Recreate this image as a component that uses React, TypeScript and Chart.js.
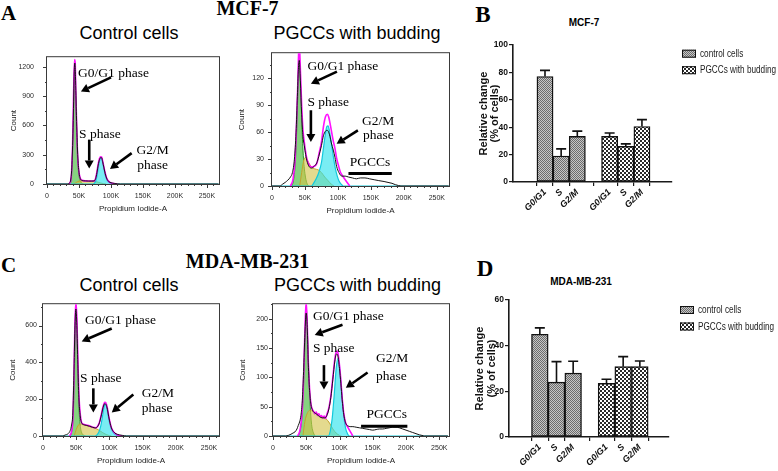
import React, { useEffect, useRef } from "react";
import { Chart, registerables } from "chart.js";

Chart.register(...registerables);

const SERIF = '"Liberation Serif", "Times New Roman", serif';
const SANS = '"Liberation Sans", Arial, sans-serif';

// ---------------- Flow cytometry histograms (x: Propidium Iodide-A in K, y: Count) ----------------
// A: MCF-7 control cells
const A_CTRL_BLACK_X = [0, 33, 35, 37, 39, 41, 42.5, 43.5, 44.5, 46, 48, 50, 52, 55, 60, 65, 70, 74, 76, 78, 80, 82, 84, 85.5, 87, 89, 91, 93, 95, 98, 102, 106, 110, 115, 268];
const A_CTRL_BLACK_Y = [0, 0, 10, 40, 200, 650, 1150, 1240, 1100, 700, 300, 120, 55, 36, 32, 30, 30, 33, 55, 115, 195, 250, 272, 268, 228, 165, 105, 62, 36, 18, 10, 5, 2, 0, 0];
const A_CTRL_FIT_X = [34, 36, 38, 40, 41.5, 43, 44, 45, 46.5, 48, 50, 52, 55, 60, 65, 70, 74, 76, 78, 80, 82, 84, 85.5, 87, 89, 91, 93, 95, 98, 102, 106, 110];
const A_CTRL_FIT_Y = [0, 15, 80, 400, 900, 1275, 1250, 950, 560, 270, 120, 60, 38, 32, 31, 30, 32, 60, 125, 205, 262, 280, 275, 235, 170, 110, 65, 38, 18, 8, 3, 0];
const A_CTRL_G1_X = [34, 36, 38, 40, 41.5, 43.4, 45, 46.5, 48, 50, 52, 54, 57];
const A_CTRL_G1_Y = [0, 5, 60, 350, 800, 1200, 900, 520, 240, 90, 35, 10, 0];
const A_CTRL_S_X = [42, 45, 48, 52, 60, 70, 76, 80, 84, 88, 92];
const A_CTRL_S_Y = [0, 12, 25, 31, 30, 28, 25, 18, 10, 4, 0];
const A_CTRL_G2_X = [0, 72, 75, 77, 79, 81, 83, 84.4, 86, 88, 90, 92, 94, 97, 100, 104, 108, 268];
const A_CTRL_G2_Y = [0, 0, 15, 50, 120, 200, 255, 268, 245, 190, 120, 70, 40, 18, 8, 2, 0, 0];

// A: MCF-7 PGCCs with budding
const A_PGCC_BLACK_X = [0, 12, 16, 20, 24, 28, 31, 34, 36.5, 38.5, 40, 41.4, 43, 45, 47, 49, 51, 53, 56, 60, 64, 68, 71, 75, 78, 81, 84, 86, 88, 90, 93, 95.5, 98, 101.5, 106, 111, 116, 122, 128, 134, 141, 148, 155, 162, 170, 176, 182, 187, 192, 197, 268];
const A_PGCC_BLACK_Y = [0, 0, 2, 4, 6.5, 10, 15, 30, 60, 100, 130, 140, 118, 80, 55, 45, 35, 28, 22, 20, 22, 26, 33, 45, 56, 61, 62, 60, 55, 48, 40, 32, 22, 15, 11, 11, 10, 9, 8, 9, 9, 8, 7, 6, 5, 4, 3, 1.5, 0.5, 0, 0];
const A_PGCC_FIT_X = [28, 32, 35, 37, 39, 40.5, 41.5, 43, 45, 47, 49, 51, 53, 56, 60, 64, 68, 71, 75, 78, 81, 84, 86, 88, 90, 93, 95.5, 98, 101.5, 104, 106.5, 110, 114, 118];
const A_PGCC_FIT_Y = [0, 8, 30, 65, 110, 150, 158, 130, 90, 62, 49, 38, 30, 24, 21, 22, 25, 35, 49, 66, 77, 80, 77, 70, 62, 50, 42, 31, 21, 15, 12, 8, 4, 0];
const A_PGCC_G1_X = [30, 33, 36, 38.5, 40, 41.4, 43, 45, 47, 49, 51, 53, 56];
const A_PGCC_G1_Y = [0, 8, 35, 85, 125, 145, 120, 75, 40, 20, 9, 3, 0];
const A_PGCC_S_X = [42, 45, 48, 51, 55, 60, 65, 70, 75, 80, 85, 90, 94];
const A_PGCC_S_Y = [0, 15, 28, 32, 27, 21, 19, 18, 15, 10, 6, 2, 0];
const A_PGCC_G2_X = [0, 60, 63, 67, 71, 75, 78, 81, 83, 85, 87, 90, 93, 96, 99, 102, 105, 108, 268];
const A_PGCC_G2_Y = [0, 0, 3, 8, 15, 26, 42, 58, 66, 67, 62, 48, 33, 20, 11, 5, 2, 0, 0];

// C: MDA-MB-231 control cells
const C_CTRL_BLACK_X = [0, 30, 33, 38, 41, 43, 45, 46.5, 48, 49.5, 51, 52.5, 54, 56, 58, 61, 65, 70, 75, 79, 82, 85, 88, 90.5, 93, 95, 97, 99, 101, 103, 106, 110, 115, 120, 126, 265];
const C_CTRL_BLACK_Y = [0, 0, 5, 13, 30, 60, 130, 330, 580, 690, 600, 390, 210, 110, 72, 62, 58, 53, 47, 44, 50, 72, 115, 155, 176, 170, 145, 104, 70, 44, 24, 12, 6, 3, 0, 0];
const C_CTRL_FIT_X = [40, 43, 45, 46.5, 48, 49.5, 51, 52.5, 54, 56, 58, 61, 65, 70, 75, 79, 82, 85, 88, 90.5, 93, 95, 97, 99, 101, 103, 106, 110, 115, 120];
const C_CTRL_FIT_Y = [0, 25, 95, 300, 600, 730, 640, 420, 230, 120, 75, 64, 60, 55, 48, 45, 52, 75, 120, 160, 183, 178, 150, 108, 72, 45, 24, 10, 3, 0];
const C_CTRL_G1_X = [40, 43, 45, 47, 48.5, 49.7, 51, 52.5, 54, 56, 58, 61, 64];
const C_CTRL_G1_Y = [0, 20, 80, 300, 560, 690, 580, 350, 170, 60, 20, 5, 0];
const C_CTRL_S_X = [47, 50, 53, 56, 60, 65, 70, 75, 80, 85, 90, 95, 100, 103];
const C_CTRL_S_Y = [0, 35, 58, 65, 62, 57, 52, 46, 40, 30, 18, 8, 2, 0];
const C_CTRL_G2_X = [0, 78, 81, 84, 87, 89.5, 91.5, 93.4, 95, 97, 99, 101, 103, 106, 109, 113, 118, 265];
const C_CTRL_G2_Y = [0, 0, 5, 20, 55, 105, 150, 172, 165, 135, 95, 62, 38, 18, 8, 3, 0, 0];

// C: MDA-MB-231 PGCCs with budding
const C_PGCC_BLACK_X = [0, 19, 23, 27, 30, 33, 36, 38, 40, 42, 44, 46, 48, 49.8, 51.5, 53, 55, 57, 59, 62, 66, 70, 74, 78, 81, 84, 87, 90, 93, 95.5, 97.5, 100, 102, 104, 106, 108, 110, 113, 116, 120, 125, 130, 135, 140, 145, 150, 155, 160, 165, 170, 175, 180, 185, 190, 195, 200, 205, 210, 215, 220, 224, 228, 263];
const C_PGCC_BLACK_Y = [0, 0, 1, 3, 5, 7, 12, 18, 24, 35, 60, 110, 175, 210, 185, 125, 78, 54, 45, 40, 37, 33, 31, 31, 35, 46, 66, 97, 128, 140, 137, 115, 90, 62, 40, 27, 20, 17, 16, 16, 15, 14, 13, 12, 11, 10, 11, 12, 12, 13, 14, 15, 15, 14, 12, 10, 8, 6, 4, 2, 1, 0, 0];
const C_PGCC_FIT_X = [37, 41, 44, 46, 48, 49.8, 51.5, 53, 55, 57, 59, 61, 63, 65, 67, 69, 71, 73, 75, 77, 79, 81, 84, 87, 90, 93, 95.5, 97.5, 100, 102, 104, 106, 108, 110, 113, 116, 120];
const C_PGCC_FIT_Y = [0, 12, 45, 100, 180, 230, 190, 130, 80, 55, 46, 42, 38, 41, 35, 38, 33, 35, 31, 34, 30, 37, 48, 68, 100, 132, 145, 142, 120, 95, 65, 42, 28, 20, 14, 8, 0];
const C_PGCC_G1_X = [38, 41, 44, 46, 48, 50.3, 52, 54, 56, 58, 60, 63];
const C_PGCC_G1_Y = [0, 10, 40, 90, 160, 215, 170, 100, 50, 20, 8, 0];
const C_PGCC_S_X = [45, 48, 52, 56, 60, 65, 70, 75, 80, 85, 90, 95, 100, 103];
const C_PGCC_S_Y = [0, 25, 40, 44, 42, 39, 35, 32, 29, 22, 12, 5, 1, 0];
const C_PGCC_G2_X = [0, 83, 86, 89, 92, 95, 97.5, 100, 103, 106, 109, 112, 115, 263];
const C_PGCC_G2_Y = [0, 0, 8, 30, 70, 115, 132, 118, 78, 38, 14, 4, 0, 0];

// Histogram annotations (in data coordinates: K, count)
type Note = { x: number; y: number; text: string; align?: CanvasTextAlign };
type Arrow = { x1: number; y1: number; x2: number; y2: number };
type HBar = { x1: number; x2: number; y: number };

const A_CTRL_NOTES: Note[] = [
  { x: 48.5, y: 1137, text: "G0/G1 phase" },
  { x: 50, y: 505, text: "S phase" },
  { x: 140, y: 344, text: "G2/M" },
  { x: 141, y: 190, text: "phase" },
];
const A_CTRL_ARROWS: Arrow[] = [
  { x1: 100, y1: 1093, x2: 53, y2: 948 },
  { x1: 66, y1: 455, x2: 66, y2: 158 },
  { x1: 132.3, y1: 316, x2: 98.4, y2: 155 },
];
const A_PGCC_NOTES: Note[] = [
  { x: 53.8, y: 133, text: "G0/G1 phase" },
  { x: 53.8, y: 93.3, text: "S phase" },
  { x: 136.4, y: 71.4, text: "G2/M" },
  { x: 137.9, y: 56, text: "phase" },
  { x: 148.8, y: 26, text: "PGCCs", align: "center" },
];
const A_PGCC_ARROWS: Arrow[] = [
  { x1: 98.5, y1: 127.5, x2: 59, y2: 114 },
  { x1: 59, y1: 84.4, x2: 59, y2: 49 },
  { x1: 130.3, y1: 62, x2: 98, y2: 47 },
];
const A_PGCC_BARS: HBar[] = [{ x1: 116, x2: 181.7, y: 13.8 }];

const C_CTRL_NOTES: Note[] = [
  { x: 63.3, y: 628, text: "G0/G1 phase" },
  { x: 55.7, y: 312, text: "S phase" },
  { x: 148.6, y: 231.6, text: "G2/M" },
  { x: 148.6, y: 147.4, text: "phase" },
];
const C_CTRL_ARROWS: Arrow[] = [
  { x1: 103.5, y1: 584, x2: 58.3, y2: 514 },
  { x1: 75.8, y1: 259, x2: 75.8, y2: 128 },
  { x1: 136, y1: 225, x2: 103.5, y2: 128 },
];
const C_PGCC_NOTES: Note[] = [
  { x: 60.1, y: 204.5, text: "G0/G1 phase" },
  { x: 60.1, y: 148.8, text: "S phase" },
  { x: 154.8, y: 131.7, text: "G2/M" },
  { x: 154.8, y: 102.5, text: "phase" },
  { x: 171, y: 37, text: "PGCCs", align: "center" },
];
const C_PGCC_ARROWS: Arrow[] = [
  { x1: 104.5, y1: 190, x2: 62.7, y2: 172.5 },
  { x1: 76.6, y1: 121, x2: 76.6, y2: 79.5 },
  { x1: 142.2, y1: 108.3, x2: 109.5, y2: 82.2 },
];
const C_PGCC_BARS: HBar[] = [{ x1: 132.4, x2: 202, y: 16.7 }];

// ---------------- Bar charts ----------------
const PHASES = ["G0/G1", "S", "G2/M"];
const CTRL_POS = [1, 2, 3];
const PGCC_POS = [5, 6, 7];
const LEGEND = ["control cells", "PGCCs with budding"];

const B_CTRL = [77, 19, 33.3];
const B_CTRL_ERR = [4.5, 5.2, 3.8];
const B_PGCC = [33.3, 26, 40.5];
const B_PGCC_ERR = [2.5, 1.8, 5];

const D_CTRL = [45, 24, 28];
const D_CTRL_ERR = [2.8, 9, 5.2];
const D_PGCC = [23.5, 30.8, 30.8];
const D_PGCC_ERR = [1.8, 4.4, 2.5];

// ---------------- Panel layouts ----------------
interface HistPanel {
  left: number; top: number; right: number; bottom: number;
  xMax: number; yMax: number; yStep: number; yLabelPad: number; countOffset: number;
  black: [number[], number[]]; fit: [number[], number[]];
  g1: [number[], number[]]; s: [number[], number[]]; g2: [number[], number[]];
  notes: Note[]; arrows: Arrow[]; bars: HBar[];
}

const HISTS: HistPanel[] = [
  {
    left: 47, top: 46, right: 219, bottom: 184, xMax: 268.75, yMax: 1300, yStep: 300, yLabelPad: 13, countOffset: 33,
    black: [A_CTRL_BLACK_X, A_CTRL_BLACK_Y], fit: [A_CTRL_FIT_X, A_CTRL_FIT_Y],
    g1: [A_CTRL_G1_X, A_CTRL_G1_Y], s: [A_CTRL_S_X, A_CTRL_S_Y], g2: [A_CTRL_G2_X, A_CTRL_G2_Y],
    notes: A_CTRL_NOTES, arrows: A_CTRL_ARROWS, bars: [],
  },
  {
    left: 272, top: 47, right: 449, bottom: 186, xMax: 268.5, yMax: 148, yStep: 30, yLabelPad: 8, countOffset: 30,
    black: [A_PGCC_BLACK_X, A_PGCC_BLACK_Y], fit: [A_PGCC_FIT_X, A_PGCC_FIT_Y],
    g1: [A_PGCC_G1_X, A_PGCC_G1_Y], s: [A_PGCC_S_X, A_PGCC_S_Y], g2: [A_PGCC_G2_X, A_PGCC_G2_Y],
    notes: A_PGCC_NOTES, arrows: A_PGCC_ARROWS, bars: A_PGCC_BARS,
  },
  {
    left: 43, top: 300, right: 219, bottom: 436, xMax: 265, yMax: 716, yStep: 200, yLabelPad: 6, countOffset: 30,
    black: [C_CTRL_BLACK_X, C_CTRL_BLACK_Y], fit: [C_CTRL_FIT_X, C_CTRL_FIT_Y],
    g1: [C_CTRL_G1_X, C_CTRL_G1_Y], s: [C_CTRL_S_X, C_CTRL_S_Y], g2: [C_CTRL_G2_X, C_CTRL_G2_Y],
    notes: C_CTRL_NOTES, arrows: C_CTRL_ARROWS, bars: [],
  },
  {
    left: 273, top: 301, right: 449, bottom: 436, xMax: 264.6, yMax: 225, yStep: 50, yLabelPad: 5, countOffset: 30,
    black: [C_PGCC_BLACK_X, C_PGCC_BLACK_Y], fit: [C_PGCC_FIT_X, C_PGCC_FIT_Y],
    g1: [C_PGCC_G1_X, C_PGCC_G1_Y], s: [C_PGCC_S_X, C_PGCC_S_Y], g2: [C_PGCC_G2_X, C_PGCC_G2_Y],
    notes: C_PGCC_NOTES, arrows: C_PGCC_ARROWS, bars: C_PGCC_BARS,
  },
];

interface BarPanelCfg {
  cx: number; cy: number; w: number; h: number;
  pad: { left: number; top: number; right: number; bottom: number };
  xMin: number; xMax: number; yMax: number; yStep: number;
  ctrl: number[]; ctrlErr: number[]; pgcc: number[]; pgccErr: number[];
  legendDx: number; legendDy: number; title1Dx: number; title2Dx: number;
}

const BARS: BarPanelCfg[] = [
  {
    cx: 460, cy: 0, w: 318, h: 225, pad: { left: 53, top: 45, right: 106, bottom: 43 },
    xMin: -0.16, xMax: 8.04, yMax: 100, yStep: 20,
    ctrl: B_CTRL, ctrlErr: B_CTRL_ERR, pgcc: B_PGCC, pgccErr: B_PGCC_ERR,
    legendDx: 10, legendDy: 8.7, title1Dx: 29.5, title2Dx: 18,
  },
  {
    cx: 460, cy: 230, w: 318, h: 241, pad: { left: 49, top: 70, right: 109, bottom: 34 },
    xMin: -0.05, xMax: 7.95, yMax: 60, yStep: 20,
    ctrl: D_CTRL, ctrlErr: D_CTRL_ERR, pgcc: D_PGCC, pgccErr: D_PGCC_ERR,
    legendDx: 11, legendDy: 10, title1Dx: 29, title2Dx: 17.5,
  },
];

const TEXTS = [
  { t: "A", x: 8.5, y: 13.3, font: `bold 21px ${SERIF}` },
  { t: "MCF-7", x: 247.5, y: 8, font: `bold 20px ${SERIF}` },
  { t: "Control cells", x: 129, y: 32.5, font: `18px ${SANS}` },
  { t: "PGCCs with budding", x: 357, y: 32.5, font: `18px ${SANS}` },
  { t: "B", x: 483, y: 14.2, font: `bold 23px ${SERIF}` },
  { t: "MCF-7", x: 584, y: 23, font: `bold 10px ${SANS}` },
  { t: "C", x: 8.5, y: 265, font: `bold 21px ${SERIF}` },
  { t: "MDA-MB-231", x: 247.5, y: 261, font: `bold 20px ${SERIF}` },
  { t: "Control cells", x: 129, y: 285, font: `18px ${SANS}` },
  { t: "PGCCs with budding", x: 357.5, y: 285, font: `18px ${SANS}` },
  { t: "D", x: 485, y: 267.5, font: `bold 23px ${SERIF}` },
  { t: "MDA-MB-231", x: 581, y: 281.7, font: `bold 10px ${SANS}` },
];

// ---------------- Drawing helpers ----------------
function drawArrow(ctx: CanvasRenderingContext2D, x1: number, y1: number, x2: number, y2: number) {
  const ang = Math.atan2(y2 - y1, x2 - x1);
  const hl = 8, hw = 4.5;
  const bx = x2 - hl * Math.cos(ang), by = y2 - hl * Math.sin(ang);
  ctx.beginPath();
  ctx.moveTo(x1, y1);
  ctx.lineTo(bx, by);
  ctx.stroke();
  ctx.beginPath();
  ctx.moveTo(x2, y2);
  ctx.lineTo(bx + hw * Math.sin(ang), by - hw * Math.cos(ang));
  ctx.lineTo(bx - hw * Math.sin(ang), by + hw * Math.cos(ang));
  ctx.closePath();
  ctx.fill();
}

function framePlugin(p: HistPanel) {
  return {
    id: "flowFrame",
    beforeDatasetsDraw(chart: any) {
      const { ctx, chartArea: a } = chart;
      ctx.save();
      ctx.strokeStyle = "#3a3a3a";
      ctx.lineWidth = 1;
      ctx.strokeRect(a.left - 0.5, a.top - 0.5, a.right - a.left + 1, a.bottom - a.top + 1);
      ctx.restore();
    },
    afterDraw(chart: any) {
      const { ctx, chartArea: a, scales } = chart;
      const xs = scales.x, ys = scales.y;
      ctx.save();
      ctx.strokeStyle = "#3a3a3a";
      ctx.lineWidth = 1;
      ctx.beginPath();
      for (let v = 0; v <= p.xMax; v += 10) {
        const px = Math.round(xs.getPixelForValue(v)) + 0.5;
        const len = v % 50 === 0 ? 4 : 2;
        ctx.moveTo(px, a.bottom);
        ctx.lineTo(px, a.bottom + len);
      }
      const minor = p.yStep / 2;
      for (let v = 0; v <= p.yMax; v += minor) {
        const py = Math.round(ys.getPixelForValue(v)) + 0.5;
        const len = Math.abs(v % p.yStep) < 1e-6 ? 4 : 2;
        ctx.moveTo(a.left, py);
        ctx.lineTo(a.left - len, py);
      }
      ctx.stroke();

      // annotations
      ctx.fillStyle = "#000";
      ctx.strokeStyle = "#000";
      ctx.lineWidth = 2.6;
      ctx.lineCap = "butt";
      for (const ar of p.arrows) {
        drawArrow(ctx, xs.getPixelForValue(ar.x1), ys.getPixelForValue(ar.y1), xs.getPixelForValue(ar.x2), ys.getPixelForValue(ar.y2));
      }
      ctx.lineWidth = 3;
      for (const b of p.bars) {
        ctx.beginPath();
        const py = ys.getPixelForValue(b.y);
        ctx.moveTo(xs.getPixelForValue(b.x1), py);
        ctx.lineTo(xs.getPixelForValue(b.x2), py);
        ctx.stroke();
      }
      ctx.font = `13.5px ${SERIF}`;
      ctx.textBaseline = "middle";
      for (const n of p.notes) {
        ctx.textAlign = n.align ?? "left";
        ctx.fillText(n.text, xs.getPixelForValue(n.x), ys.getPixelForValue(n.y));
      }

      // axis titles
      ctx.fillStyle = "#222";
      ctx.font = `8px ${SANS}`;
      ctx.textAlign = "center";
      ctx.textBaseline = "middle";
      ctx.fillText("Propidium Iodide-A", (a.left + a.right) / 2, a.bottom + 24.5);
      ctx.translate(a.left - p.countOffset, (a.top + a.bottom) / 2);
      ctx.rotate(-Math.PI / 2);
      ctx.fillText("Count", 0, 0);
      ctx.restore();
    },
  };
}

const PAD_L = 48, PAD_T = 6, PAD_R = 8, PAD_B = 32;

function Histogram({ p }: { p: HistPanel }) {
  const ref = useRef<HTMLCanvasElement>(null);
  const w = p.right - p.left + PAD_L + PAD_R;
  const h = p.bottom - p.top + PAD_T + PAD_B;
  useEffect(() => {
    const line = (xy: [number[], number[]], color: string, width: number, fillColor?: string) => ({
      data: xy[0].map((x, i) => ({ x, y: xy[1][i] })),
      borderColor: color,
      borderWidth: width,
      backgroundColor: fillColor ?? "transparent",
      fill: fillColor ? "origin" : false,
      pointRadius: 0,
      cubicInterpolationMode: "monotone",
    });
    const chart = new Chart(ref.current as HTMLCanvasElement, {
      type: "line",
      data: {
        datasets: [
          line(p.black, "#151515", 1),
          line(p.fit, "#ff10ff", 1.6),
          line(p.g2, "#12c9dc", 1.2, "rgba(38,226,236,0.62)"),
          line(p.s, "#c4a32c", 1, "rgba(212,196,72,0.62)"),
          line(p.g1, "#2c9a2c", 1, "rgba(72,186,62,0.66)"),
        ] as any,
      },
      options: {
        animation: false,
        responsive: false,
        events: [],
        layout: { padding: { left: 0, top: PAD_T, right: PAD_R, bottom: 0 } },
        plugins: { legend: { display: false }, tooltip: { enabled: false } },
        scales: {
          x: {
            type: "linear", min: 0, max: p.xMax,
            afterFit: (s: any) => { s.height = PAD_B; },
            grid: { display: false, drawTicks: false },
            border: { display: false },
            ticks: {
              stepSize: 50, includeBounds: false, autoSkip: false, maxRotation: 0, padding: 8,
              color: "#2a2a2a", font: { size: 7, family: SANS },
              callback: (v: any) => (v === 0 ? "0" : `${v}K`),
            },
          },
          y: {
            type: "linear", min: 0, max: p.yMax,
            afterFit: (s: any) => { s.width = PAD_L; },
            grid: { display: false, drawTicks: false },
            border: { display: false },
            ticks: {
              stepSize: p.yStep, includeBounds: false, autoSkip: false, padding: p.yLabelPad,
              color: "#2a2a2a", font: { size: 7, family: SANS },
              callback: (v: any) => String(v),
            },
          },
        },
      } as any,
      plugins: [framePlugin(p)],
    });
    return () => chart.destroy();
  }, [p]);
  return (
    <canvas
      ref={ref}
      width={w}
      height={h}
      style={{ position: "absolute", left: p.left - PAD_L, top: p.top - PAD_T, width: w, height: h }}
    />
  );
}

function makePattern(kind: "fine" | "check"): CanvasPattern {
  const c = document.createElement("canvas");
  if (kind === "fine") {
    c.width = 2; c.height = 2;
    const ctx = c.getContext("2d") as CanvasRenderingContext2D;
    ctx.fillStyle = "#c6c6c6";
    ctx.fillRect(0, 0, 2, 2);
    ctx.fillStyle = "#6c6c6c";
    ctx.fillRect(0, 0, 1, 1);
    ctx.fillRect(1, 1, 1, 1);
    return ctx.createPattern(c, "repeat") as CanvasPattern;
  }
  c.width = 4; c.height = 4;
  const ctx = c.getContext("2d") as CanvasRenderingContext2D;
  ctx.fillStyle = "#ffffff";
  ctx.fillRect(0, 0, 4, 4);
  ctx.fillStyle = "#2a2a2a";
  ctx.fillRect(0, 0, 2, 2);
  ctx.fillRect(2, 2, 2, 2);
  return ctx.createPattern(c, "repeat") as CanvasPattern;
}

function labelFor(v: number): string {
  const i = CTRL_POS.indexOf(v);
  if (i >= 0) return PHASES[i];
  const j = PGCC_POS.indexOf(v);
  return j >= 0 ? PHASES[j] : "";
}

function barDeco(p: BarPanelCfg, patterns: CanvasPattern[]) {
  const vals = [p.ctrl, p.pgcc];
  const errs = [p.ctrlErr, p.pgccErr];
  return {
    id: "barDeco",
    afterDatasetsDraw(chart: any) {
      const { ctx } = chart;
      const ys = chart.scales.y;
      ctx.save();
      ctx.strokeStyle = "#111";
      ctx.lineWidth = 1.6;
      for (let d = 0; d < 2; d++) {
        const meta = chart.getDatasetMeta(d);
        meta.data.forEach((bar: any, i: number) => {
          const x = bar.x;
          const yTop = ys.getPixelForValue(vals[d][i]);
          const yErr = ys.getPixelForValue(vals[d][i] + errs[d][i]);
          ctx.beginPath();
          ctx.moveTo(x, yTop);
          ctx.lineTo(x, yErr);
          ctx.moveTo(x - 5, yErr);
          ctx.lineTo(x + 5, yErr);
          ctx.stroke();
        });
      }
      ctx.restore();
    },
    afterDraw(chart: any) {
      const { ctx, chartArea: a } = chart;
      ctx.save();
      // legend
      for (let i = 0; i < 2; i++) {
        const x0 = a.right + p.legendDx;
        const y0 = a.top + p.legendDy + i * 16.5;
        ctx.fillStyle = patterns[i];
        ctx.fillRect(x0, y0 - 4, 14, 8);
        ctx.strokeStyle = "#111";
        ctx.lineWidth = 1;
        ctx.strokeRect(x0 + 0.5, y0 - 3.5, 13, 7);
        ctx.save();
        ctx.translate(x0 + 18, y0);
        ctx.scale(0.82, 1);
        ctx.fillStyle = "#222";
        ctx.font = `10px ${SANS}`;
        ctx.textAlign = "left";
        ctx.textBaseline = "middle";
        ctx.fillText(LEGEND[i], 0, 0.5);
        ctx.restore();
      }
      // y axis title (two lines)
      const cy = (a.top + a.bottom) / 2;
      ctx.fillStyle = "#111";
      ctx.font = `bold 11px ${SANS}`;
      ctx.textAlign = "center";
      ctx.textBaseline = "middle";
      ctx.save();
      ctx.translate(a.left - p.title1Dx, cy);
      ctx.rotate(-Math.PI / 2);
      ctx.fillText("Relative change", 0, 0);
      ctx.restore();
      ctx.save();
      ctx.translate(a.left - p.title2Dx, cy);
      ctx.rotate(-Math.PI / 2);
      ctx.fillText("(% of cells)", 0, 0);
      ctx.restore();
      ctx.restore();
    },
  };
}

function BarPanel({ p }: { p: BarPanelCfg }) {
  const ref = useRef<HTMLCanvasElement>(null);
  useEffect(() => {
    const fine = makePattern("fine");
    const check = makePattern("check");
    const ds = (pos: number[], vals: number[], bg: CanvasPattern, label: string) => ({
      label,
      data: pos.map((x, i) => ({ x, y: vals[i] })),
      backgroundColor: bg,
      borderColor: "#111",
      borderWidth: 1.4,
      borderSkipped: false,
      barPercentage: 1,
      categoryPercentage: 1,
      grouped: false,
    });
    const chart = new Chart(ref.current as HTMLCanvasElement, {
      type: "bar",
      data: {
        datasets: [ds(CTRL_POS, p.ctrl, fine, LEGEND[0]), ds(PGCC_POS, p.pgcc, check, LEGEND[1])] as any,
      },
      options: {
        animation: false,
        responsive: false,
        events: [],
        layout: { padding: { left: 0, top: p.pad.top, right: p.pad.right, bottom: 0 } },
        plugins: { legend: { display: false }, tooltip: { enabled: false } },
        scales: {
          x: {
            type: "linear", min: p.xMin, max: p.xMax,
            afterBuildTicks: (s: any) => { s.ticks = [...CTRL_POS, ...PGCC_POS].map((v) => ({ value: v })); },
            afterFit: (s: any) => { s.height = p.pad.bottom; },
            grid: { display: true, drawOnChartArea: false, drawTicks: true, tickLength: 4, color: "#1a1a1a", lineWidth: 1.2 },
            border: { display: true, color: "#1a1a1a", width: 1.6 },
            ticks: {
              autoSkip: false, minRotation: 45, maxRotation: 45, padding: 1, color: "#111",
              font: { size: 9, weight: "bold", style: "italic", family: SANS },
              callback: (v: any) => labelFor(v),
            },
          },
          y: {
            type: "linear", min: 0, max: p.yMax,
            afterFit: (s: any) => { s.width = p.pad.left; },
            grid: { display: true, drawOnChartArea: false, drawTicks: true, tickLength: 4, color: "#1a1a1a", lineWidth: 1.2 },
            border: { display: true, color: "#1a1a1a", width: 1.6 },
            ticks: {
              stepSize: p.yStep, padding: 1, color: "#111",
              font: { size: 8.5, weight: "bold", family: SANS },
              callback: (v: any) => String(v),
            },
          },
        },
      } as any,
      plugins: [barDeco(p, [fine, check])],
    });
    return () => chart.destroy();
  }, [p]);
  return (
    <canvas
      ref={ref}
      width={p.w}
      height={p.h}
      style={{ position: "absolute", left: p.cx, top: p.cy, width: p.w, height: p.h }}
    />
  );
}

export default function App() {
  return (
    <div
      style={{
        position: "absolute", left: 0, top: 0, width: 778, height: 471,
        background: "#ffffff", overflow: "hidden",
      }}
    >
      {TEXTS.map((t, i) => (
        <div
          key={i}
          style={{
            position: "absolute", left: t.x, top: t.y, transform: "translate(-50%, -50%)",
            font: t.font, lineHeight: 1, whiteSpace: "nowrap", color: "#000",
          }}
        >
          {t.t}
        </div>
      ))}
      {HISTS.map((p, i) => (
        <Histogram key={`h${i}`} p={p} />
      ))}
      {BARS.map((p, i) => (
        <BarPanel key={`b${i}`} p={p} />
      ))}
    </div>
  );
}
